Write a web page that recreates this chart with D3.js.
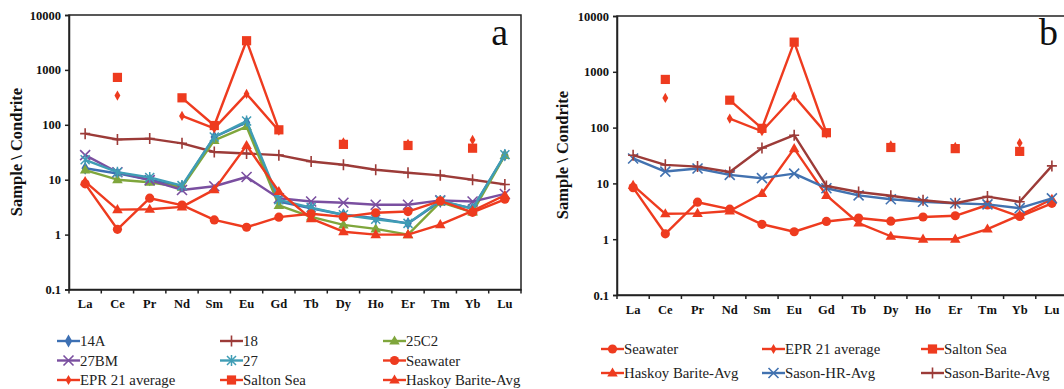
<!DOCTYPE html>
<html><head><meta charset="utf-8">
<script src="https://cdn.jsdelivr.net/npm/d3@7"></script>
<style>
body{margin:0;background:#fff}
svg{display:block}
svg text, svg .tick text{font-family:"Liberation Serif","Times New Roman",Tinos,serif !important}
</style>
</head><body>
<svg id="c" width="1064" height="389" style="font-family:'Liberation Serif',serif"></svg>
<script>
const elements = ["La","Ce","Pr","Nd","Sm","Eu","Gd","Tb","Dy","Ho","Er","Tm","Yb","Lu"];
const yTicks = [0.1,1,10,100,1000,10000];
const s14A   = [16.2,13,10,7.5,60,110,4,3,2.3,2,1.6,4,3,28];
const s18    = [69,54,56,46,32,30,28,21.5,18.7,15.2,13.4,12,10,8.2];
const s25C2  = [15,10,9,7.3,52,93,3.4,2.1,1.5,1.27,1.0,3.9,2.55,27.7];
const s27BM  = [28,13.7,9.8,6.5,7.6,11.2,4.6,4.0,3.8,3.5,3.5,4.2,4.0,5.5];
const s27    = [23,13.7,11,7.8,60,117,4.3,3.1,2.3,1.9,1.6,4.2,2.95,28.5];
const seawater = [8.4,1.25,4.6,3.45,1.85,1.36,2.08,2.4,2.1,2.5,2.63,4.1,2.55,4.4];
const epr    = [null,340,null,145,86,365,78,null,48,null,45,null,53,null];
const salton = [null,730,null,310,97,3400,81,null,44,null,42,null,37.5,null];
const haskoy = [9.2,2.85,2.9,3.2,6.6,42,6.1,1.95,1.13,1.0,1.0,1.52,2.7,5.2];
const sasonHR = [28,16.3,18.5,14.2,12.4,15,8.2,6.1,5.2,4.7,4.4,4.2,3.6,5.4];
const sasonBarite = [32,21.5,20,16,43,73,9,7.0,6.0,5.0,4.4,5.8,4.7,20.6];

const RED="#ee3b1f", BROWN="#9c3b38", GREEN="#7fa63c", PURPLE="#7a4fa0", TEAL="#3f9db5", BLUE="#3d70b3", BLUE2="#4272b0";

const seriesDefs = {
  "14A":{data:s14A,color:BLUE,m:"diamond"},
  "18":{data:s18,color:BROWN,m:"plus"},
  "25C2":{data:s25C2,color:GREEN,m:"triangle"},
  "27BM":{data:s27BM,color:PURPLE,m:"x"},
  "27":{data:s27,color:TEAL,m:"star"},
  "Seawater":{data:seawater,color:RED,m:"circle"},
  "EPR 21 average":{data:epr,color:RED,m:"sdiamond"},
  "Salton Sea":{data:salton,color:RED,m:"square"},
  "Haskoy Barite-Avg":{data:haskoy,color:RED,m:"triangle"},
  "Sason-HR-Avg":{data:sasonHR,color:BLUE2,m:"x"},
  "Sason-Barite-Avg":{data:sasonBarite,color:BROWN,m:"plus"}
};
const panelA = ["14A","18","25C2","27BM","27","Seawater","EPR 21 average","Salton Sea","Haskoy Barite-Avg"];
const panelB = ["Seawater","EPR 21 average","Salton Sea","Haskoy Barite-Avg","Sason-HR-Avg","Sason-Barite-Avg"];

const svg = d3.select("#c");

function marker(g, type, color, x, y){
  const t = `translate(${x},${y})`;
  if(type==="circle") g.append("circle").attr("cx",x).attr("cy",y).attr("r",4.6).attr("fill",color);
  else if(type==="square") g.append("rect").attr("x",x-4.6).attr("y",y-4.6).attr("width",9.2).attr("height",9.2).attr("fill",color);
  else if(type==="triangle") g.append("path").attr("d",d3.symbol(d3.symbolTriangle,48)()).attr("transform",`translate(${x},${y+0.5})`).attr("fill",color);
  else if(type==="diamond") g.append("path").attr("d",d3.symbol(d3.symbolDiamond,48)()).attr("transform",t).attr("fill",color);
  else if(type==="sdiamond") g.append("path").attr("d",d3.symbol(d3.symbolDiamond,30)()).attr("transform",t).attr("fill",color);
  else if(type==="plus") g.append("path").attr("d","M-5,0H5M0,-5.5V5.5").attr("transform",t).attr("stroke",color).attr("stroke-width",1.6).attr("fill","none");
  else if(type==="x") g.append("path").attr("d","M-5,-5L5,5M-5,5L5,-5").attr("transform",t).attr("stroke",color).attr("stroke-width",1.6).attr("fill","none");
  else if(type==="star") g.append("path").attr("d","M-4.5,-4.5L4.5,4.5M-4.5,4.5L4.5,-4.5M0,-5.5V5.5").attr("transform",t).attr("stroke",color).attr("stroke-width",1.5).attr("fill","none");
}

function panel(opt){
  const x = d3.scaleBand().domain(elements).range([opt.x0,opt.x1]);
  const y = d3.scaleLog().domain([0.1,10000]).range([opt.yb,opt.yt]);
  const g = svg.append("g");
  g.append("rect").attr("x",opt.x0).attr("y",opt.yt).attr("width",opt.x1-opt.x0).attr("height",opt.yb-opt.yt)
    .attr("fill","none").attr("stroke","#222").attr("stroke-width",1.5);
  const ya = g.append("g").attr("transform",`translate(${opt.x0},0)`)
    .call(d3.axisLeft(y).tickValues(yTicks).tickFormat(d=>String(d)).tickSize(4).tickPadding(4));
  ya.attr("font-family","Liberation Serif").attr("font-size",12.5).attr("font-weight","bold");
  ya.select(".domain").attr("stroke","#222").attr("stroke-width",1.5);
  ya.selectAll(".tick line").attr("stroke","#222").attr("stroke-width",1.5);
  ya.selectAll("text").attr("fill","#111");
  const xa = g.append("g").attr("transform",`translate(0,${opt.yb})`)
    .call(d3.axisBottom(x).tickSize(0).tickPadding(opt.xpad));
  xa.attr("font-family","Liberation Serif").attr("font-size",12.5).attr("font-weight","bold");
  xa.select(".domain").attr("stroke","#222").attr("stroke-width",1.5);
  xa.selectAll("text").attr("fill","#111");
  const bounds = elements.map(e=>x(e)).concat([opt.x1]);
  g.selectAll(".bt").data(bounds).enter().append("line")
    .attr("x1",d=>d).attr("x2",d=>d).attr("y1",opt.yb).attr("y2",opt.yb+4)
    .attr("stroke","#222").attr("stroke-width",1.5);
  g.append("text").attr("transform",`translate(${opt.tx},${opt.ty}) rotate(-90)`)
    .attr("text-anchor","middle").attr("font-family","Liberation Serif").attr("font-weight","bold")
    .attr("font-size",16.5).attr("fill","#111").text("Sample \\ Condrite");
  g.append("text").attr("x",opt.lx).attr("y",45).attr("text-anchor","end").attr("font-family","Liberation Serif")
    .attr("font-size",38).attr("fill","#111").text(opt.letter);
  const cx = e => x(e)+x.bandwidth()/2;
  const line = d3.line().defined(d=>d.v!=null).x(d=>cx(d.e)).y(d=>y(d.v));
  opt.series.forEach(name=>{
    const s = seriesDefs[name];
    const pts = elements.map((e,i)=>({e:e,v:s.data[i]}));
    g.append("path").attr("d",line(pts)).attr("fill","none").attr("stroke",s.color).attr("stroke-width",2.4).attr("stroke-linejoin","round");
    const mg = g.append("g");
    pts.filter(p=>p.v!=null).forEach(p=>marker(mg,s.m,s.color,cx(p.e),y(p.v)));
  });
  opt.series.forEach((name,i)=>{
    const s = seriesDefs[name];
    const col = i%3, row = Math.floor(i/3);
    const lx = opt.legX[col], ly = opt.legY[row];
    const lg = svg.append("g");
    lg.append("line").attr("x1",lx).attr("x2",lx+23).attr("y1",ly).attr("y2",ly).attr("stroke",s.color).attr("stroke-width",2.4);
    marker(lg,s.m,s.color,lx+11.5,ly);
    lg.append("text").attr("x",lx+23).attr("y",ly+5).attr("font-family","Liberation Serif").attr("font-size",14.8)
      .attr("fill","#222").text(name);
  });
}

panel({x0:69,x1:521,yt:15,yb:289.5,xpad:10,tx:22,ty:152,lx:508,letter:"a",series:panelA,
  legX:[57,220,383],legY:[341,360.5,380]});
panel({x0:617,x1:1068,yt:16,yb:295,xpad:10,tx:568,ty:155,lx:1058,letter:"b",series:panelB,
  legX:[601,762,921],legY:[349,373]});
</script>
</body></html>
